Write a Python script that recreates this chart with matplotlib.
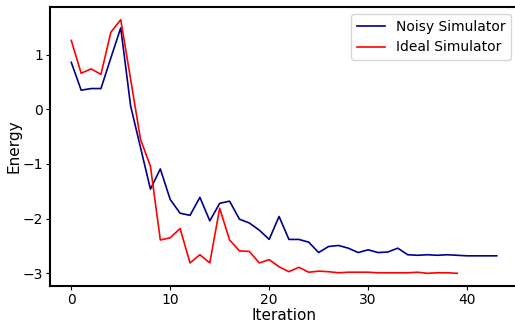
import numpy as np
import matplotlib as mpl
import matplotlib.pyplot as plt

mpl.use('agg')

# energy per iteration
noisy_energy = [0.86, 0.35, 0.38, 0.38, 0.94, 1.49, 0.06, -0.70, -1.46, -1.09,
                -1.65, -1.90, -1.94, -1.61, -2.04, -1.72, -1.68, -2.01, -2.08, -2.21,
                -2.38, -1.96, -2.38, -2.38, -2.43, -2.62, -2.51, -2.49, -2.54, -2.62,
                -2.57, -2.62, -2.61, -2.54, -2.66, -2.67, -2.66, -2.67, -2.66, -2.67,
                -2.68, -2.68, -2.68, -2.68]
ideal_energy = [1.26, 0.66, 0.74, 0.64, 1.41, 1.64, 0.55, -0.55, -1.04, -2.39,
                -2.35, -2.18, -2.81, -2.66, -2.81, -1.81, -2.39, -2.59, -2.60, -2.81,
                -2.75, -2.88, -2.97, -2.89, -2.98, -2.96, -2.97, -2.99, -2.98, -2.98,
                -2.98, -2.99, -2.99, -2.99, -2.99, -2.98, -3.00, -2.99, -2.99, -3.00]

fig = plt.figure(figsize=(5.15, 3.27), dpi=100)
ax = plt.subplot()
fig.subplots_adjust(left=50/515, right=518/515, top=1-7/327, bottom=1-286/327)

ax.plot(np.arange(len(noisy_energy)), noisy_energy, color='darkblue', lw=1.2, label='Noisy Simulator')
ax.plot(np.arange(len(ideal_energy)), ideal_energy, color='red', lw=1.2, label='Ideal Simulator')

ax.set_xlabel('Iteration', fontsize=11, labelpad=1)
ax.set_ylabel('Energy', fontsize=11, labelpad=1)
ax.tick_params(labelsize=10, length=3, pad=2)
for s in ax.spines.values():
    s.set_linewidth(1.5)
ax.legend(fontsize=10, loc='upper right')

fig.savefig('out.png', dpi=100)
